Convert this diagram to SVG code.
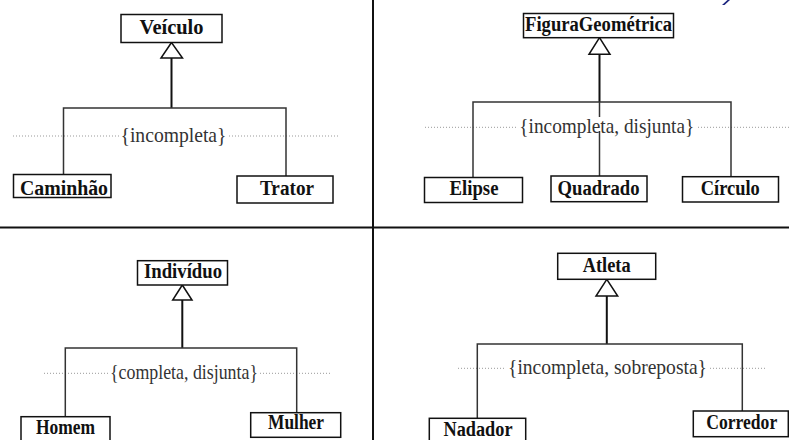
<svg xmlns="http://www.w3.org/2000/svg" width="789" height="440" viewBox="0 0 789 440">
<style>
.box{fill:#fff;stroke:#111;stroke-width:1.5}
.lbl{font-family:"Liberation Serif","DejaVu Serif",serif;font-weight:bold;font-size:20px;fill:#111;text-anchor:middle}
.cst{font-family:"Liberation Serif","DejaVu Serif",serif;font-size:21px;fill:#333;text-anchor:middle}
.ln{stroke:#333;stroke-width:1.5;fill:none}
.stem{stroke:#111;stroke-width:2;fill:none}
.tri{fill:#fff;stroke:#111;stroke-width:1.5}
.dot{stroke:#999;stroke-width:1;stroke-dasharray:1 2;fill:none}
.div{stroke:#111;stroke-width:2}
.bg{fill:#fff}
</style>
<rect width="789" height="440" fill="#fff"/>
<g id="dividers">
<line class="div" x1="373" y1="0" x2="373" y2="440"/>
<line class="div" x1="0" y1="227.5" x2="789" y2="227.5"/>
</g>
<polygon points="722,5 727.5,0 730,0 724.5,5" fill="#1a237e"/>
<g id="connectors">
<line class="dot" x1="13" y1="136" x2="338" y2="136"/>
<polygon class="tri" points="171.5,42.5 161,58 182.5,58"/>
<line class="stem" x1="171.5" y1="58" x2="171.5" y2="108"/>
<polyline class="ln" points="63.5,174.5 63.5,108 286,108 286,176"/>
<line class="dot" x1="425" y1="127.3" x2="789" y2="127.3"/>
<polygon class="tri" points="599.5,37.7 589,54.3 610,54.3"/>
<line class="stem" x1="599.5" y1="54.3" x2="599.5" y2="102"/>
<polyline class="ln" points="473,177.5 473,102 731,102 731,176.7"/>
<line class="ln" x1="599.5" y1="102" x2="599.5" y2="176"/>
<line class="dot" x1="44" y1="373.3" x2="330" y2="373.3"/>
<polygon class="tri" points="182.3,285 172.7,300 192,300"/>
<line class="stem" x1="182.3" y1="300" x2="182.3" y2="348"/>
<polyline class="ln" points="65.3,416.7 65.3,348 296.7,348 296.7,412.7"/>
<line class="dot" x1="458" y1="368.3" x2="767" y2="368.3"/>
<polygon class="tri" points="606.8,279.3 596,296 617.7,296"/>
<line class="stem" x1="606.8" y1="296" x2="606.8" y2="344"/>
<polyline class="ln" points="477.3,418.3 477.3,344 742.3,344 742.3,411"/>
</g>
<g id="constraints">
<rect class="bg" x="119" y="125" width="110" height="19"/>
<text class="cst" x="173.5" y="141.5" textLength="106" lengthAdjust="spacingAndGlyphs">{incompleta}</text>
<rect class="bg" x="517" y="117" width="180" height="14"/>
<text class="cst" x="606.8" y="133" textLength="175" lengthAdjust="spacingAndGlyphs">{incompleta, disjunta}</text>
<rect class="bg" x="108" y="364" width="152" height="17"/>
<text class="cst" x="184" y="379" textLength="148" lengthAdjust="spacingAndGlyphs">{completa, disjunta}</text>
<rect class="bg" x="506" y="359" width="203" height="17"/>
<text class="cst" x="607.5" y="374" textLength="199" lengthAdjust="spacingAndGlyphs">{incompleta, sobreposta}</text>
</g>
<g id="Veiculo"><rect class="box" x="121" y="14.5" width="101" height="28"/><text class="lbl" x="171.5" y="34" textLength="64" lengthAdjust="spacingAndGlyphs">Veículo</text></g>
<g id="Caminhao"><rect class="box" x="13.5" y="174.5" width="97.5" height="23"/><text class="lbl" x="64" y="195" textLength="88" lengthAdjust="spacingAndGlyphs">Caminhão</text></g>
<g id="Trator"><rect class="box" x="237" y="176" width="96" height="27"/><text class="lbl" x="287" y="195" textLength="54" lengthAdjust="spacingAndGlyphs">Trator</text></g>
<g id="FiguraGeometrica"><rect class="box" x="523.5" y="13.5" width="150" height="24.2"/><text class="lbl" x="598.5" y="30.5" textLength="147" lengthAdjust="spacingAndGlyphs">FiguraGeométrica</text></g>
<g id="Elipse"><rect class="box" x="424.5" y="177.5" width="98" height="25"/><text class="lbl" x="474" y="195" textLength="49" lengthAdjust="spacingAndGlyphs">Elipse</text></g>
<g id="Quadrado"><rect class="box" x="551" y="176" width="96" height="25.7"/><text class="lbl" x="598.5" y="195" textLength="82" lengthAdjust="spacingAndGlyphs">Quadrado</text></g>
<g id="Circulo"><rect class="box" x="682.5" y="176.7" width="96" height="25.3"/><text class="lbl" x="730.3" y="195" textLength="59" lengthAdjust="spacingAndGlyphs">Círculo</text></g>
<g id="Individuo"><rect class="box" x="137.5" y="260.7" width="90" height="24.3"/><text class="lbl" x="183" y="278.3" textLength="78" lengthAdjust="spacingAndGlyphs">Indivíduo</text></g>
<g id="Homem"><rect class="box" x="21" y="416.7" width="89" height="30"/><text class="lbl" x="65.5" y="433.5" textLength="59" lengthAdjust="spacingAndGlyphs">Homem</text></g>
<g id="Mulher"><rect class="box" x="250.7" y="412.7" width="90" height="24.6"/><text class="lbl" x="296" y="428.5" textLength="56" lengthAdjust="spacingAndGlyphs">Mulher</text></g>
<g id="Atleta"><rect class="box" x="557.7" y="253.3" width="98" height="26"/><text class="lbl" x="606.7" y="271.7" textLength="48" lengthAdjust="spacingAndGlyphs">Atleta</text></g>
<g id="Nadador"><rect class="box" x="429.3" y="418.3" width="96.4" height="30"/><text class="lbl" x="478" y="436" textLength="69" lengthAdjust="spacingAndGlyphs">Nadador</text></g>
<g id="Corredor"><rect class="box" x="693.3" y="411" width="95" height="25.7"/><text class="lbl" x="741.7" y="429.3" textLength="71" lengthAdjust="spacingAndGlyphs">Corredor</text></g>
</svg>
